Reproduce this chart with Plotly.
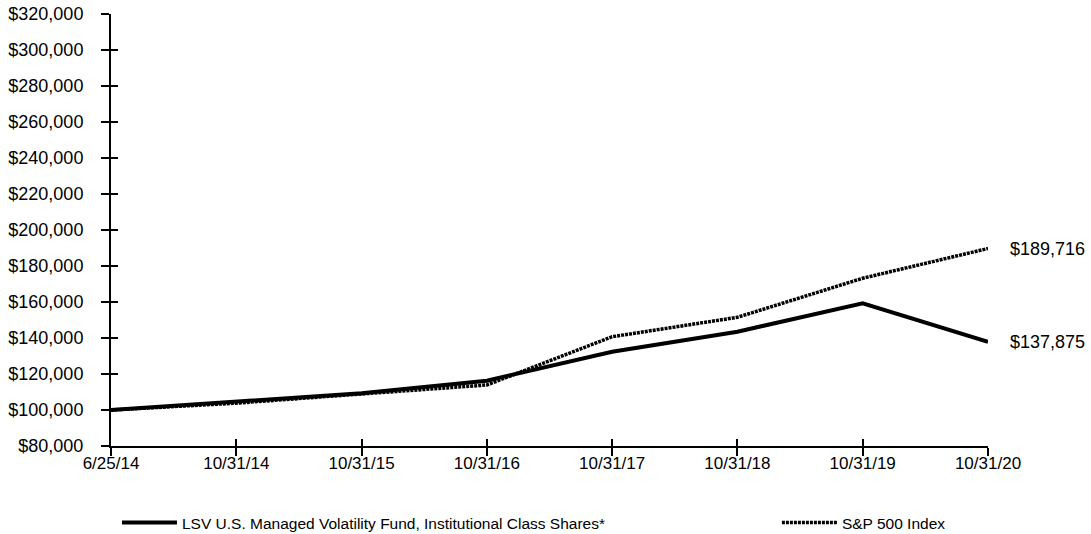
import plotly.graph_objects as go

dates = ["6/25/14", "10/31/14", "10/31/15", "10/31/16", "10/31/17", "10/31/18", "10/31/19", "10/31/20"]
fund_name = "LSV U.S. Managed Volatility Fund, Institutional Class Shares*"
index_name = "S&P 500 Index"
fund_values = [100000, 104600, 109300, 116300, 132400, 143500, 159300, 137875]
index_values = [100000, 103800, 108900, 113900, 140700, 151500, 173200, 189716]
y_ticks = list(range(80000, 320001, 20000))

FONT = "Liberation Sans, Arial, sans-serif"
xs = list(range(len(dates)))

fig = go.Figure()
fig.add_trace(go.Scatter(x=xs, y=fund_values, mode="lines", name=fund_name,
                         line=dict(color="black", width=4), legend="legend"))
fig.add_trace(go.Scatter(x=xs, y=index_values, mode="lines", name=index_name,
                         line=dict(color="black", width=3.5, dash="3px,1px"), legend="legend2"))

for vals in (index_values, fund_values):
    fig.add_annotation(x=xs[-1], y=vals[-1], text="${:,.0f}".format(vals[-1]),
                       xanchor="left", yanchor="middle", xshift=20, showarrow=False,
                       font=dict(family=FONT, size=18, color="black"))

axis_common = dict(showgrid=False, zeroline=False, linecolor="black", linewidth=2,
                   tickcolor="black", tickwidth=2, ticklen=8, ticklabeloverflow="allow")

fig.update_layout(
    width=1091, height=534,
    margin=dict(l=111, r=103, t=14, b=88, autoexpand=False),
    paper_bgcolor="white", plot_bgcolor="white",
    font=dict(family=FONT, size=15, color="black"),
    xaxis=dict(range=[0, 7], tickvals=xs, ticktext=dates, ticks="outside",
               showline=True, **axis_common, tickfont=dict(size=17), automargin=False,
               ticklabelstandoff=-7),
    yaxis=dict(range=[80000, 320000], tickvals=y_ticks,
               ticktext=["${:,.0f}".format(v) for v in y_ticks], ticks="outside",
               showline=True, **axis_common, tickfont=dict(size=18), automargin=False,
               ticklabelstandoff=14),
    xaxis2=dict(range=[0, 7], tickvals=xs, ticks="inside", showticklabels=False,
                overlaying="x", showline=False, showgrid=False, zeroline=False,
                tickcolor="black", tickwidth=2, ticklen=7, anchor="y"),
    yaxis2=dict(range=[80000, 320000], tickvals=y_ticks, ticks="inside", showticklabels=False,
                overlaying="y", showline=False, showgrid=False, zeroline=False,
                tickcolor="black", tickwidth=2, ticklen=7, anchor="x"),
    legend=dict(x=0.0068, y=-0.178, xanchor="left", yanchor="middle", orientation="h",
                font=dict(size=15.5), bgcolor="rgba(0,0,0,0)", itemwidth=55),
    legend2=dict(x=0.7593, y=-0.178, xanchor="left", yanchor="middle", orientation="h",
                 font=dict(size=15.5), bgcolor="rgba(0,0,0,0)", itemwidth=55),
    showlegend=True,
)
fig.add_trace(go.Scatter(x=[xs[0]], y=[fund_values[0]], xaxis="x2", yaxis="y2",
                         mode="markers", marker=dict(opacity=0), showlegend=False, hoverinfo="skip"))

fig.write_html("out.html", config={"displayModeBar": False},
               post_script="document.body.style.margin='0';")
